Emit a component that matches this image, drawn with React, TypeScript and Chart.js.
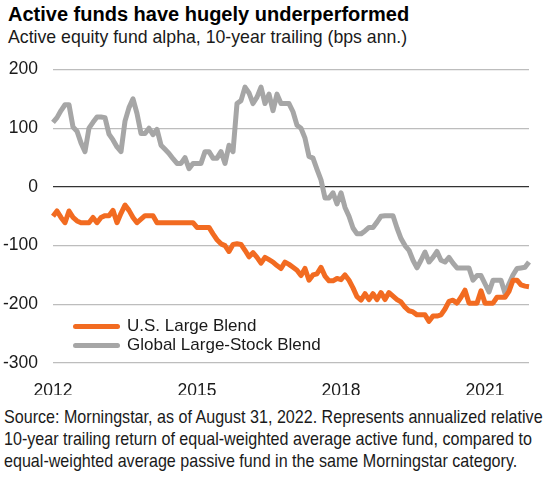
import React, { useEffect, useRef } from "react"
import { Chart, registerables } from "chart.js"

Chart.register(...registerables)

// monthly, Sep 2012 - Aug 2022
const usLargeBlend = [
  -50, -41, -52, -61, -41, -52, -58, -61, -61, -61, -52, -61, -52, -49, -49, -40, -61, -45, -31, -40,
  -52, -61, -55, -49, -49, -49, -61, -61, -61, -61, -61, -61, -61, -61, -61, -61, -69, -69, -69, -69,
  -80, -90, -97, -100, -110, -98, -97, -98, -108, -119, -112, -120, -130, -120, -124, -128, -134, -139, -128, -132,
  -137, -142, -151, -139, -159, -150, -148, -137, -152, -160, -160, -156, -158, -150, -159, -172, -187, -193, -182, -192,
  -182, -192, -180, -192, -180, -186, -192, -196, -205, -211, -213, -218, -218, -218, -229, -220, -220, -218, -208, -195,
  -193, -198, -188, -176, -198, -198, -198, -177, -198, -198, -198, -188, -188, -188, -178, -159, -159, -167, -169, -170,
]

const globalLargeStock = [
  110, 118, 130, 140, 140, 102, 95, 75, 60, 100, 110, 119, 119, 118, 90, 80, 68, 60, 112, 135,
  150, 125, 91, 91, 100, 89, 98, 71, 64, 57, 48, 40, 40, 50, 31, 40, 40, 40, 60, 60,
  49, 49, 60, 40, 71, 60, 142, 147, 170, 160, 142, 153, 170, 142, 158, 130, 158, 142, 142, 142,
  128, 105, 100, 83, 52, 49, 30, 12, -19, -19, -10, -29, -10, -35, -50, -70, -80, -80, -75, -69,
  -69, -60, -50, -49, -49, -49, -70, -88, -100, -108, -125, -138, -125, -111, -128, -120, -110, -125, -128, -120,
  -130, -138, -138, -138, -138, -159, -151, -151, -165, -179, -159, -159, -159, -181, -165, -150, -139, -138, -137, -128,
]

const yearLabels = ["2012", "2015", "2018", "2021"]
const monthsPerLabel = 36
const yTicks = [200, 100, 0, -100, -200, -300]

const ORANGE = "#F26B21"
const GRAY = "#A6A6A6"
const TEXT = "#1a1a1a"
const FONT = "'Liberation Sans', Arial, sans-serif"

const App: React.FC = () => {
  const canvasRef = useRef<HTMLCanvasElement | null>(null)
  const chartRef = useRef<Chart | null>(null)

  useEffect(() => {
    document.body.style.margin = "0"
    if (!canvasRef.current) return
    const ctx = canvasRef.current.getContext("2d")
    if (!ctx) return
    if (chartRef.current) chartRef.current.destroy()

    const labels = usLargeBlend.map((_, i) => i)

    chartRef.current = new Chart(ctx, {
      type: "line",
      data: {
        labels,
        datasets: [
          {
            label: "U.S. Large Blend",
            data: usLargeBlend,
            borderColor: ORANGE,
            borderWidth: 5,
            pointRadius: 0,
            borderJoinStyle: "round",
            tension: 0,
          },
          {
            label: "Global Large-Stock Blend",
            data: globalLargeStock,
            borderColor: GRAY,
            borderWidth: 5,
            pointRadius: 0,
            borderJoinStyle: "round",
            tension: 0,
          },
        ],
      },
      options: {
        animation: false,
        responsive: false,
        maintainAspectRatio: false,
        layout: { padding: { top: 0, right: 20, left: 0, bottom: 0 } },
        plugins: { legend: { display: false }, tooltip: { enabled: false } },
        scales: {
          x: {
            type: "category",
            offset: false,
            grid: { display: false },
            border: { display: false },
            ticks: {
              autoSkip: false,
              maxRotation: 0,
              padding: 10,
              color: TEXT,
              font: { family: FONT, size: 17.5 },
              callback: (_v, i) => (i % monthsPerLabel === 0 ? yearLabels[i / monthsPerLabel] : ""),
            },
            afterFit: (s) => {
              s.height = 32
            },
          },
          y: {
            min: -300,
            max: 200,
            afterBuildTicks: (s) => {
              s.ticks = yTicks.map((v) => ({ value: v }))
            },
            afterFit: (s) => {
              s.width = 53
            },
            border: { display: false },
            grid: {
              drawTicks: false,
              color: (c) => (c.tick && c.tick.value === 0 ? "#333333" : "#BDBDBD"),
              lineWidth: 1.3,
            },
            ticks: {
              padding: 15,
              color: TEXT,
              font: { family: FONT, size: 17.5 },
            },
          },
        },
      },
    })

    return () => {
      if (chartRef.current) {
        chartRef.current.destroy()
        chartRef.current = null
      }
    }
  }, [])

  const legendItem = (color: string, text: string, top: number) => (
    <div style={{ position: "absolute", left: 73, top, display: "flex", alignItems: "center" }}>
      <div style={{ width: 47, height: 5, borderRadius: 3, background: color, marginRight: 7 }} />
      <span style={{ fontFamily: FONT, fontSize: 17, color: TEXT, lineHeight: "18px" }}>{text}</span>
    </div>
  )

  return (
    <div style={{ position: "absolute", left: 0, top: 0, width: 549, height: 488, background: "#fff" }}>
      <div
        style={{
          position: "absolute",
          left: 8,
          top: 3,
          fontFamily: FONT,
          fontWeight: 700,
          fontSize: 20,
          color: "#000",
          whiteSpace: "nowrap",
        }}
      >
        Active funds have hugely underperformed
      </div>
      <div
        style={{
          position: "absolute",
          left: 8,
          top: 27,
          fontFamily: FONT,
          fontSize: 17.7,
          color: TEXT,
          whiteSpace: "nowrap",
        }}
      >
        Active equity fund alpha, 10-year trailing (bps ann.)
      </div>
      <canvas
        ref={canvasRef}
        width={549}
        height={351}
        style={{ position: "absolute", left: 0, top: 44, width: 549, height: 351 }}
      />
      {legendItem(ORANGE, "U.S. Large Blend", 317)}
      {legendItem(GRAY, "Global Large-Stock Blend", 336)}
      <div
        style={{
          position: "absolute",
          left: 4,
          top: 406,
          fontFamily: FONT,
          fontSize: 18.5,
          lineHeight: "22px",
          color: TEXT,
          whiteSpace: "nowrap",
          transform: "scaleX(0.87)",
          transformOrigin: "0 0",
        }}
      >
        Source: Morningstar, as of August 31, 2022. Represents annualized relative
        <br />
        10-year trailing return of equal-weighted average active fund, compared to
        <br />
        equal-weighted average passive fund in the same Morningstar category.
      </div>
    </div>
  )
}

export default App
